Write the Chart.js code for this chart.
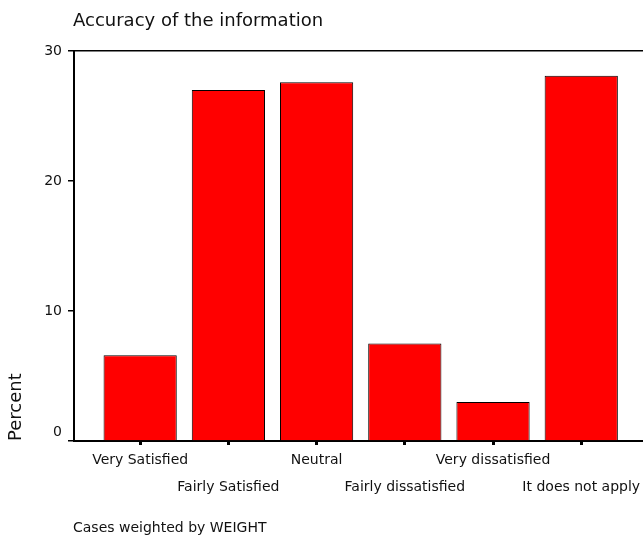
<!DOCTYPE html>
<html>
<head>
<meta charset="utf-8">
<script src="https://cdn.jsdelivr.net/npm/chart.js@4.4.1/dist/chart.umd.min.js"></script>
<style>
  html, body { margin: 0; padding: 0; background: #fff; overflow: hidden; }
  #wrap { position: relative; width: 643px; height: 538px; }
</style>
</head>
<body>
<div id="wrap"><canvas id="chart"></canvas></div>
<script>
const categories = ["Very Satisfied", "Fairly Satisfied", "Neutral", "Fairly dissatisfied", "Very dissatisfied", "It does not apply"];
const percents = [6.6, 27.0, 27.6, 7.5, 3.0, 28.1];
const yTicks = [0, 10, 20, 30];
const chartTitle = "Accuracy of the information";
const footnote = "Cases weighted by WEIGHT";

const FONT = "'DejaVu Sans', sans-serif";
const INK = "#111";

// title and footnote sit flush with the plot's left edge, like the SPSS output
const captions = {
  id: "captions",
  afterDraw(chart) {
    const { ctx, chartArea } = chart;
    ctx.save();
    ctx.fillStyle = INK;
    ctx.textBaseline = "alphabetic";
    ctx.font = `18px ${FONT}`;
    ctx.fillText(chartTitle, chartArea.left - 1, 26);
    ctx.font = `14px ${FONT}`;
    ctx.fillText(footnote, chartArea.left - 1, 532);
    ctx.restore();
  }
};

new Chart(document.getElementById("chart"), {
  type: "bar",
  data: {
    datasets: [{
      label: "Percent",
      data: percents.map((v, i) => ({ x: i, y: v })),
      backgroundColor: "#ff0000",
      borderColor: "#000",
      borderWidth: 1,
      categoryPercentage: 1,
      barPercentage: 0.83
    }]
  },
  options: {
    responsive: true,
    maintainAspectRatio: false,
    animation: false,
    layout: { padding: { top: 51, right: 0, bottom: 35, left: 0 } },
    plugins: { legend: { display: false }, tooltip: { enabled: false } },
    scales: {
      x: {
        type: "linear",
        offset: false,
        bounds: "data",
        min: -0.75,
        max: 5.7,
        // one tick per category, at the bar centres
        afterBuildTicks: (scale) => { scale.ticks = categories.map((_, i) => ({ value: i })); },
        grid: { display: true, offset: false, drawOnChartArea: false, tickLength: 4, lineWidth: 3, color: "#000" },
        border: { color: "#000", width: 2 },
        ticks: {
          autoSkip: false,
          maxRotation: 0,
          padding: 2,
          color: INK,
          font: { family: FONT, size: 14, lineHeight: "27px" },
          // alternate labels onto two rows
          callback: (v) => {
            const name = categories[v];
            if (name === undefined) return "";
            return v % 2 === 0 ? [name, ""] : ["", name];
          }
        }
      },
      y: {
        min: yTicks[0],
        max: yTicks[yTicks.length - 1],
        afterFit: (scale) => { scale.width = 74; },
        afterBuildTicks: (scale) => { scale.ticks = yTicks.map((value) => ({ value })); },
        grid: {
          drawOnChartArea: true,
          tickLength: 6,
          lineWidth: 1.5,
          color: (c) => (c.tick && c.tick.value === yTicks[yTicks.length - 1] ? "#000" : "rgba(0,0,0,0)"),
          tickColor: "#000"
        },
        border: { color: "#000", width: 2 },
        ticks: {
          padding: 6,
          color: INK,
          font: { family: FONT, size: 14, lineHeight: 1.2 },
          // lift the zero label off the x axis
          callback: (v) => (v === 0 ? ["0", ""] : String(v))
        },
        title: {
          display: true,
          text: "Percent",
          align: "start",
          color: INK,
          font: { family: FONT, size: 18 },
          padding: { top: 6, bottom: 0 }
        }
      }
    }
  },
  plugins: [captions]
});
</script>
</body>
</html>
